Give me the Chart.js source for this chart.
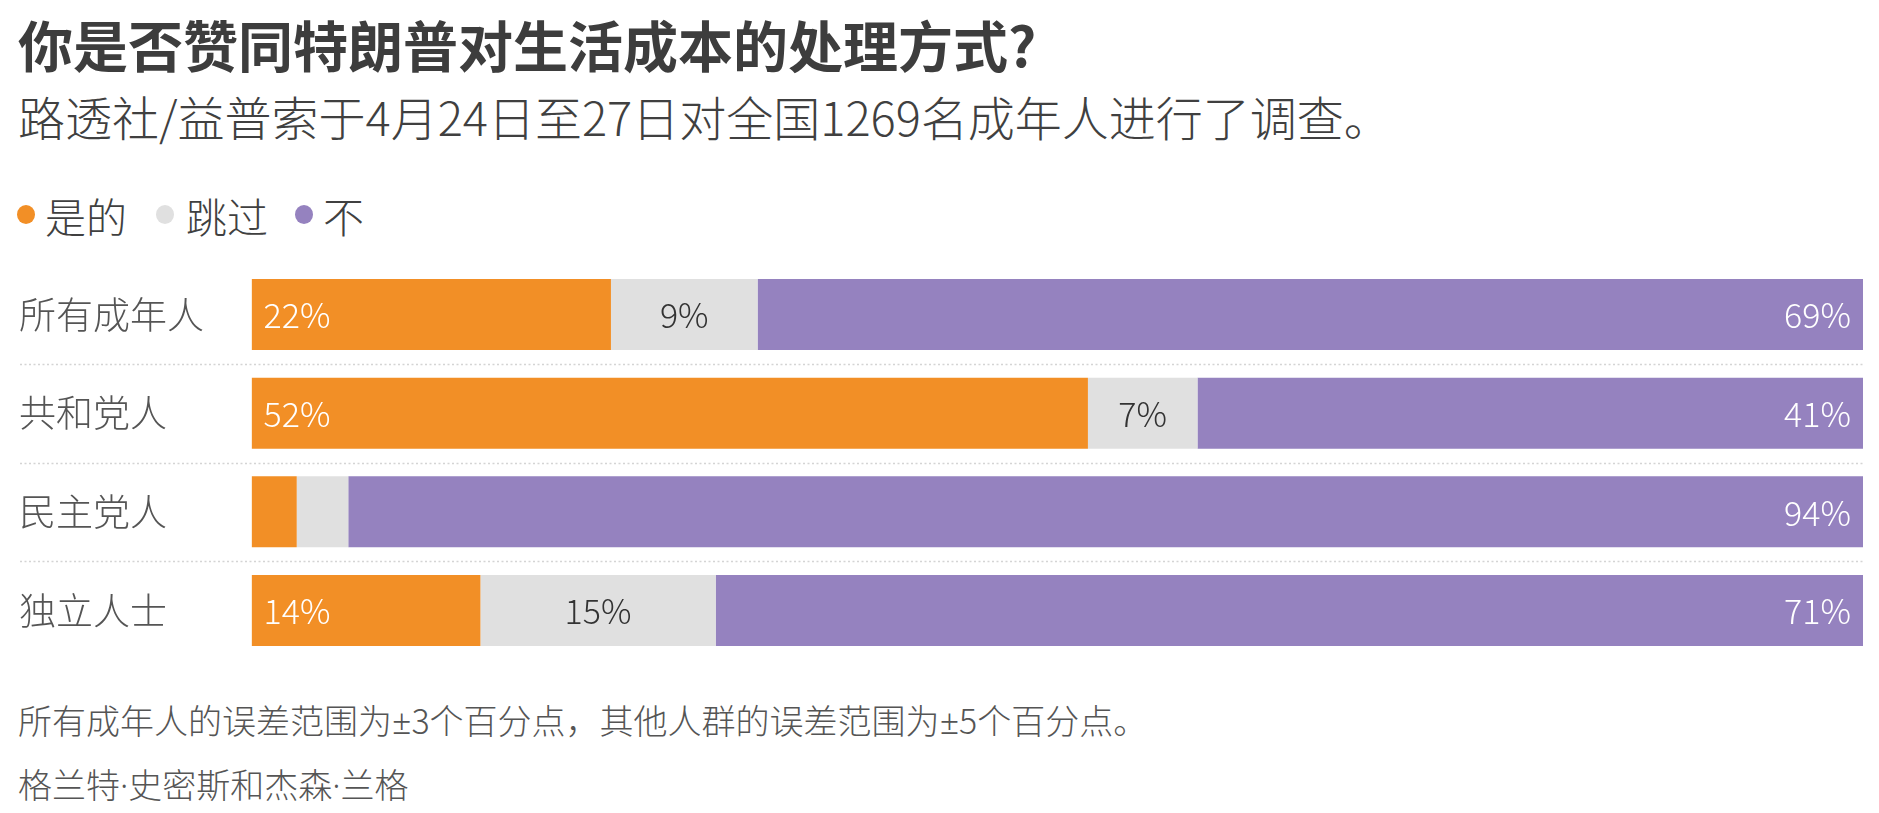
<!DOCTYPE html>
<html><head><meta charset="utf-8">
<script src="https://cdn.jsdelivr.net/npm/chart.js@4"></script>
<style>
html,body{margin:0;padding:0;background:#fff;}
body{width:1879px;height:813px;position:relative;overflow:hidden;font-family:'Noto Sans CJK SC','Noto Sans',sans-serif;}
.t{position:absolute;white-space:nowrap;line-height:1;}
.lat{font-family:'Noto Sans',sans-serif;}
#title{left:18px;top:16px;font-size:55px;font-weight:700;color:#3d3d3d;}
#sub{left:18px;top:92px;font-size:47px;font-weight:300;color:#404040;}
.leg{top:195px;font-size:41px;font-weight:300;color:#404040;}
.dot{position:absolute;width:18px;height:19px;border-radius:50%;top:205px;}
#foot{left:18px;top:703px;font-size:34px;font-weight:300;color:#555;}
#credit{left:18px;top:767px;font-size:34px;font-weight:300;color:#555;}
#wrap{position:absolute;left:0;top:243px;width:1879px;height:439px;}
</style></head>
<body>
<div id="title" class="t">你是否赞同特朗普对生活成本的处理方式?</div>
<div id="sub" class="t">路透社/益普索于4月24日至27日对全国1269名成年人进行了调查。</div>
<div id="legend"></div>
<div id="wrap"><canvas id="c"></canvas></div>
<div id="foot" class="t">所有成年人的误差范围为<span class="lat">±</span>3个百分点，其他人群的误差范围为<span class="lat">±</span>5个百分点。</div>
<div id="credit" class="t">格兰特<span class="lat">·</span>史密斯和杰森<span class="lat">·</span>兰格</div>
<script>
const categories = ['所有成年人', '共和党人', '民主党人', '独立人士'];
const seriesNames = ['是的', '跳过', '不'];
const yesValues = [22.3, 51.9, 2.8, 14.2];
const skipValues = [9.1, 6.8, 3.2, 14.6];
const noValues = [68.6, 41.3, 94.0, 71.2];
const colors = ['#F28F26', '#E0E0E0', '#9582BF'];
const labelColors = ['#ffffff', '#333333', '#ffffff'];

// HTML legend
const legendPos = [[17, 45], [156, 186], [295, 323]];
const legendEl = document.getElementById('legend');
seriesNames.forEach((n, i) => {
  const d = document.createElement('div');
  d.className = 'dot';
  d.style.left = legendPos[i][0] + 'px';
  d.style.background = colors[i];
  legendEl.appendChild(d);
  const s = document.createElement('div');
  s.className = 't leg';
  s.style.left = legendPos[i][1] + 'px';
  s.textContent = n;
  legendEl.appendChild(s);
});

const FONT = "'Noto Sans CJK SC','Noto Sans',sans-serif";
Chart.defaults.font.family = FONT;

const separators = {
  id: 'separators',
  beforeDatasetsDraw(chart) {
    const y = chart.scales.y, ctx = chart.ctx, a = chart.chartArea;
    ctx.save();
    ctx.strokeStyle = '#d4d4d4';
    ctx.lineWidth = 1.5;
    ctx.setLineDash([2, 2.5]);
    for (let i = 0; i < categories.length - 1; i++) {
      const yy = Math.round((y.getPixelForValue(i) + y.getPixelForValue(i + 1)) / 2) + 0.5;
      ctx.beginPath();
      ctx.moveTo(20, yy);
      ctx.lineTo(a.right, yy);
      ctx.stroke();
    }
    ctx.restore();
  }
};

const valueLabels = {
  id: 'valueLabels',
  afterDatasetsDraw(chart) {
    const ctx = chart.ctx;
    ctx.save();
    ctx.font = '300 34px ' + FONT;
    ctx.textBaseline = 'middle';
    chart.data.datasets.forEach((ds, di) => {
      chart.getDatasetMeta(di).data.forEach((bar, i) => {
        const v = ds.data[i];
        if (v < 5) return;
        const left = Math.min(bar.base, bar.x), right = Math.max(bar.base, bar.x);
        ctx.fillStyle = labelColors[di];
        let x;
        if (di === 0) { ctx.textAlign = 'left'; x = left + 12; }
        else if (di === 1) { ctx.textAlign = 'center'; x = (left + right) / 2; }
        else { ctx.textAlign = 'right'; x = right - 12; }
        ctx.fillText(Math.round(v) + '%', x, bar.y + 1);
      });
    });
    ctx.restore();
  }
};

new Chart(document.getElementById('c'), {
  type: 'bar',
  data: {
    labels: categories,
    datasets: [
      { label: seriesNames[0], data: yesValues, backgroundColor: colors[0] },
      { label: seriesNames[1], data: skipValues, backgroundColor: colors[1] },
      { label: seriesNames[2], data: noValues, backgroundColor: colors[2] }
    ]
  },
  options: {
    indexAxis: 'y',
    responsive: true,
    maintainAspectRatio: false,
    animation: false,
    layout: { padding: { left: 19, right: 16, top: 0, bottom: 0 } },
    datasets: { bar: { barPercentage: 1, categoryPercentage: 0.72, borderWidth: 0 } },
    plugins: { legend: { display: false }, tooltip: { enabled: false } },
    scales: {
      x: { stacked: true, min: 0, max: 100, display: false },
      y: {
        stacked: true,
        grid: { display: false },
        border: { display: false },
        ticks: { crossAlign: 'far', color: '#555', font: { size: 37, weight: 300 }, padding: 0 },
        afterFit(scale) { scale.width = 232.6; }
      }
    }
  },
  plugins: [separators, valueLabels]
});
</script>
</body></html>
